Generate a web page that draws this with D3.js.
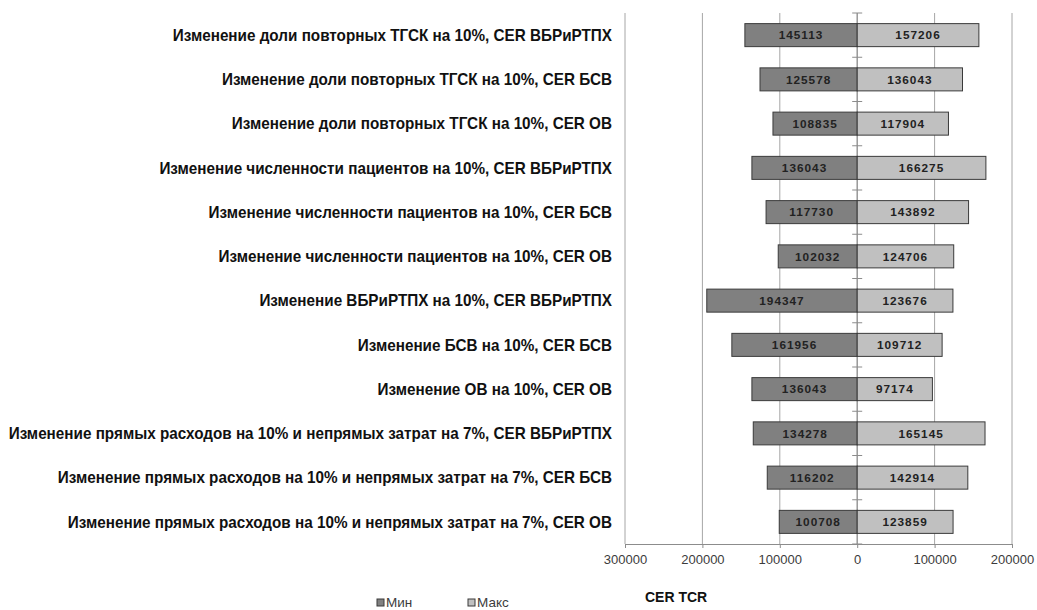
<!DOCTYPE html>
<html>
<head>
<meta charset="utf-8">
<script src="https://cdn.jsdelivr.net/npm/d3@7"></script>
<style>
  html, body { margin: 0; padding: 0; background: #fff; }
  svg { display: block; }
</style>
</head>
<body>
<svg id="chart" width="1037" height="610"></svg>
<script>
// Scenario names (top to bottom)
const categories = [
  "Изменение доли повторных ТГСК на 10%, CER ВБРиРТПХ",
  "Изменение доли повторных ТГСК на 10%, CER БСВ",
  "Изменение доли повторных ТГСК на 10%, CER ОВ",
  "Изменение численности пациентов на 10%, CER ВБРиРТПХ",
  "Изменение численности пациентов на 10%, CER БСВ",
  "Изменение численности пациентов на 10%, CER ОВ",
  "Изменение ВБРиРТПХ на 10%, CER ВБРиРТПХ",
  "Изменение БСВ на 10%, CER БСВ",
  "Изменение ОВ на 10%, CER ОВ",
  "Изменение прямых расходов на 10% и непрямых затрат на 7%, CER ВБРиРТПХ",
  "Изменение прямых расходов на 10% и непрямых затрат на 7%, CER БСВ",
  "Изменение прямых расходов на 10% и непрямых затрат на 7%, CER ОВ"
];
const minValues = [145113, 125578, 108835, 136043, 117730, 102032, 194347, 161956, 136043, 134278, 116202, 100708];
const maxValues = [157206, 136043, 117904, 166275, 143892, 124706, 123676, 109712, 97174, 165145, 142914, 123859];
const tickValues = [-300000, -200000, -100000, 0, 100000, 200000];
const seriesNames = ["Мин", "Макс"];
const axisTitle = "CER TCR";

const svg = d3.select("#chart");
const plot = { left: 625, right: 1012, top: 13, bottom: 544 };
const sans = "'Liberation Sans', Arial, sans-serif";

const x = d3.scaleLinear().domain([-300000, 200000]).range([plot.left, plot.right]);
const y = d3.scaleBand().domain(d3.range(categories.length)).range([plot.top, plot.bottom]).paddingInner(0.48).paddingOuter(0.24);
const yOuter = d3.scaleBand().domain(d3.range(categories.length)).range([plot.top, plot.bottom]);

const colors = { min: "#808080", max: "#c0c0c0", stroke: "#3a3a3a", grid: "#a6a6a6" };

// vertical gridlines
svg.append("g").selectAll("line").data(tickValues).join("line")
  .attr("x1", d => x(d)).attr("x2", d => x(d))
  .attr("y1", plot.top).attr("y2", plot.bottom)
  .attr("stroke", colors.grid).attr("stroke-width", 1);

// bottom axis
const xAxis = d3.axisBottom(x).tickValues(tickValues).tickSize(4).tickPadding(7)
  .tickFormat(d => String(Math.abs(d)));
const gx = svg.append("g").attr("transform", `translate(0,${plot.bottom})`).call(xAxis);
gx.select(".domain").attr("stroke", "#8c8c8c");
gx.selectAll(".tick line").attr("stroke", "#8c8c8c");
gx.selectAll(".tick text").attr("fill", "#3c3c3c")
  .style("font-family", sans).style("font-size", "13px");

// category axis at zero with band ticks
const gz = svg.append("g");
gz.append("line").attr("x1", x(0)).attr("x2", x(0)).attr("y1", plot.top).attr("y2", plot.bottom)
  .attr("stroke", "#8c8c8c");
gz.selectAll("line.band").data(d3.range(categories.length + 1)).join("line")
  .attr("class", "band")
  .attr("x1", x(0) - 5).attr("x2", x(0) + 5)
  .attr("y1", i => plot.top + i * yOuter.step()).attr("y2", i => plot.top + i * yOuter.step())
  .attr("stroke", "#8c8c8c");

// bars
const rows = categories.map((c, i) => ({ i, c, min: minValues[i], max: maxValues[i] }));
const bars = svg.append("g");
bars.selectAll("rect.min").data(rows).join("rect").attr("class", "min")
  .attr("x", d => x(-d.min)).attr("width", d => x(0) - x(-d.min))
  .attr("y", d => y(d.i)).attr("height", y.bandwidth())
  .attr("fill", colors.min).attr("stroke", colors.stroke).attr("stroke-width", 1);
bars.selectAll("rect.max").data(rows).join("rect").attr("class", "max")
  .attr("x", x(0)).attr("width", d => x(d.max) - x(0))
  .attr("y", d => y(d.i)).attr("height", y.bandwidth())
  .attr("fill", colors.max).attr("stroke", colors.stroke).attr("stroke-width", 1);

// value labels
function valueLabels(cls, cx, key) {
  bars.selectAll("text." + cls).data(rows).join("text").attr("class", cls)
    .attr("x", cx).attr("y", d => y(d.i) + y.bandwidth() / 2)
    .attr("dy", "0.36em").attr("text-anchor", "middle")
    .style("font-family", sans).style("font-weight", "bold").style("font-size", "11.8px")
    .style("letter-spacing", "1px")
    .attr("fill", "#222").text(d => d[key]);
}
valueLabels("vmin", d => (x(-d.min) + x(0)) / 2, "min");
valueLabels("vmax", d => (x(0) + x(d.max)) / 2, "max");

// category labels, condensed horizontally so the longest fits its column
const labelRight = 612, labelMaxWidth = 604;
const labels = svg.append("g").selectAll("g").data(rows).join("g")
  .attr("transform", d => `translate(${labelRight},${yOuter(d.i) + yOuter.bandwidth() / 2})`);
const labelText = labels.append("text")
  .attr("dy", "0.36em").attr("text-anchor", "end")
  .style("font-family", sans).style("font-weight", "bold").style("font-size", "16px")
  .attr("fill", "#111").text(d => d.c);
const longest = d3.max(labelText.nodes(), n => n.getComputedTextLength());
const sx = Math.min(1, labelMaxWidth / longest);
labelText.attr("transform", `scale(${sx},1)`);

// axis title
svg.append("text").attr("x", 645).attr("y", 602)
  .style("font-family", sans).style("font-weight", "bold").style("font-size", "14px")
  .attr("fill", "#111").text(axisTitle);

// legend
const legendX = [377, 468];
const legend = svg.append("g").selectAll("g").data(seriesNames).join("g")
  .attr("transform", (d, i) => `translate(${legendX[i]},599)`);
legend.append("rect").attr("width", 7).attr("height", 7)
  .attr("fill", (d, i) => i === 0 ? colors.min : colors.max).attr("stroke", colors.stroke);
legend.append("text").attr("x", 9).attr("y", 3.5).attr("dy", "0.36em")
  .style("font-family", sans).style("font-size", "13.5px")
  .attr("fill", "#3c3c3c").text(d => d);
</script>
</body>
</html>
